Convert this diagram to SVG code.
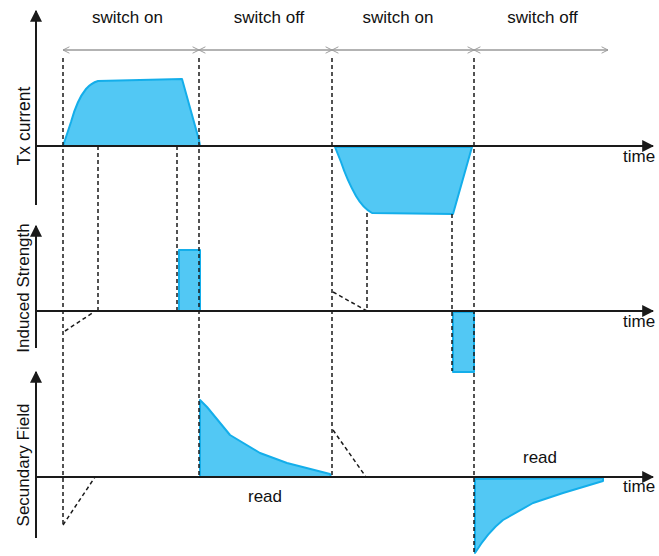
<svg xmlns="http://www.w3.org/2000/svg" width="659" height="556" viewBox="0 0 659 556">
<style>
text{font-family:"Liberation Sans",Arial,sans-serif;font-size:17px;fill:#111}
.ax{stroke:#1a1a1a;stroke-width:2;fill:none}
.dash{stroke:#1a1a1a;stroke-width:1.5;stroke-dasharray:4 3;fill:none}
.sig{fill:#52C8F4;stroke:#14AEEA;stroke-width:2;stroke-linejoin:round}
.span{stroke:#9a9a9a;stroke-width:1.5;fill:none;marker-start:url(#open);marker-end:url(#open)}
</style>
<defs>
<marker id="open" viewBox="0 0 10 10" refX="9" refY="5" markerWidth="8" markerHeight="8" orient="auto-start-reverse" markerUnits="userSpaceOnUse">
<path d="M1 1 L9 5 L1 9" fill="none" stroke="#9a9a9a" stroke-width="1.2"/>
</marker>
<marker id="solid" viewBox="0 0 10 10" refX="9" refY="5" markerWidth="12" markerHeight="12" orient="auto" markerUnits="userSpaceOnUse">
<path d="M0 0 L10 5 L0 10 Z" fill="#1a1a1a"/>
</marker>
</defs>

<g id="labels">
<text x="127.5" y="23" text-anchor="middle">switch on</text>
<text x="269" y="23" text-anchor="middle">switch off</text>
<text x="398" y="23" text-anchor="middle">switch on</text>
<text x="542.5" y="23" text-anchor="middle">switch off</text>
<text transform="translate(30,126) rotate(-90)" text-anchor="middle" style="font-size:17.5px">Tx current</text>
<text transform="translate(29,288) rotate(-90)" text-anchor="middle">Induced Strength</text>
<text transform="translate(29,465) rotate(-90)" text-anchor="middle">Secundary Field</text>
<text x="623" y="162">time</text>
<text x="623" y="327">time</text>
<text x="623" y="492">time</text>
<text x="265" y="502" text-anchor="middle">read</text>
<text x="540" y="463" text-anchor="middle">read</text>
</g>

<g id="spans">
<line class="span" x1="63" y1="50" x2="199" y2="50"/>
<line class="span" x1="199" y1="50" x2="332" y2="50"/>
<line class="span" x1="332" y1="50" x2="474" y2="50"/>
<line class="span" x1="474" y1="50" x2="608" y2="50"/>
</g>

<g id="signals">
<path class="sig" d="M63 146 L71 122 Q77 100 86 89 Q91 83 98 81 L182 79 L199 140 L200 146 Z"/>
<rect class="sig" x="179" y="250" width="21" height="61"/>
<path class="sig" d="M200 477 L200 400 L207 407 L230 435 L260 453 L287 463 L330 474 L331 477 Z"/>
<path class="sig" d="M335 147 L341 162 Q347 180 356 196 Q363 208 372 213 L453 214 L472 147 Z"/>
<rect class="sig" x="453" y="312" width="21" height="60"/>
<path class="sig" d="M475 479 L475 553 Q488 532 503 520 L533 503 L563 493 L603 481 L603 478 Z"/>
</g>

<g id="connectors">
<line class="dash" x1="63" y1="58" x2="63" y2="525"/>
<line class="dash" x1="63" y1="525" x2="95" y2="477"/>
<line class="dash" x1="98" y1="146" x2="98" y2="311"/>
<line class="dash" x1="65" y1="331" x2="94" y2="312"/>
<line class="dash" x1="177" y1="146" x2="177" y2="311"/>
<line class="dash" x1="199" y1="58" x2="199" y2="477"/>
<line class="dash" x1="332" y1="58" x2="332" y2="477"/>
<line class="dash" x1="333" y1="292" x2="367" y2="311"/>
<line class="dash" x1="367" y1="213" x2="367" y2="311"/>
<line class="dash" x1="452" y1="214" x2="452" y2="371"/>
<line class="dash" x1="474" y1="58" x2="474" y2="555"/>
<line class="dash" x1="333" y1="430" x2="366" y2="477"/>
</g>

<g id="axes">
<line class="ax" x1="36" y1="205" x2="36" y2="11" marker-end="url(#solid)"/>
<line class="ax" x1="36" y1="146" x2="653" y2="146" marker-end="url(#solid)"/>
<line class="ax" x1="36" y1="348" x2="36" y2="226" marker-end="url(#solid)"/>
<line class="ax" x1="36" y1="311" x2="653" y2="311" marker-end="url(#solid)"/>
<line class="ax" x1="36" y1="538" x2="36" y2="372" marker-end="url(#solid)"/>
<line class="ax" x1="36" y1="477" x2="653" y2="477" marker-end="url(#solid)"/>
</g>
</svg>
